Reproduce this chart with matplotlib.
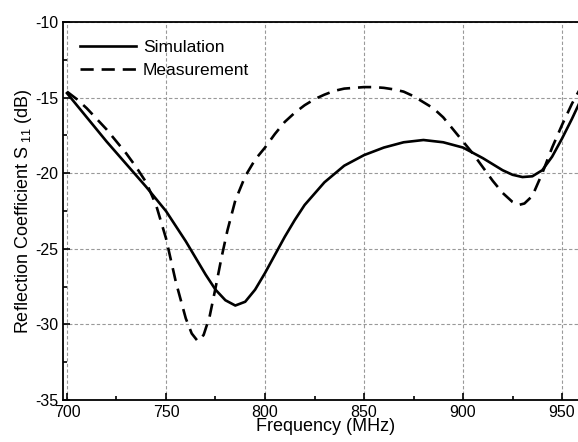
import matplotlib
matplotlib.use("Agg")
import matplotlib.pyplot as plt
from matplotlib.ticker import MultipleLocator

plt.rcParams['font.family'] = ['Liberation Sans', 'DejaVu Sans']
plt.rcParams['mathtext.fontset'] = 'custom'
plt.rcParams['mathtext.rm'] = 'Liberation Sans'
plt.rcParams['axes.unicode_minus'] = False

# Simulated S11
sim_f = [700, 710, 720, 730, 740, 745, 750, 755, 760, 765, 770, 775, 780, 785,
         790, 795, 800, 805, 810, 815, 820, 830, 840, 850, 860, 870, 880, 890,
         900, 910, 915, 920, 925, 930, 935, 940, 945, 950, 955, 960, 965]
sim_s11 = [-14.7, -16.3, -17.9, -19.4, -20.9, -21.7, -22.5, -23.5, -24.5, -25.6,
           -26.7, -27.7, -28.4, -28.75, -28.5, -27.7, -26.6, -25.4, -24.2, -23.1,
           -22.1, -20.6, -19.5, -18.8, -18.3, -17.95, -17.8, -17.95, -18.3, -19.0,
           -19.4, -19.8, -20.1, -20.25, -20.2, -19.8, -18.9, -17.7, -16.4, -15.0, -13.6]

meas_f = [700, 705, 710, 715, 720, 725, 730, 735, 740, 745, 750, 755, 760, 763,
          766, 769, 772, 775, 778, 781, 785, 790, 795, 800, 805, 810, 815, 820,
          825, 830, 835, 840, 845, 850, 855, 860, 865, 870, 875, 880, 885, 890,
          895, 900, 905, 910, 915, 920, 925, 928, 931, 935, 940, 945, 950, 955, 960, 965]
meas_s11 = [-14.6, -15.1, -15.7, -16.4, -17.1, -17.9, -18.7, -19.6, -20.6, -22.1,
            -24.3, -27.2, -29.6, -30.6, -31.1, -30.7, -29.5, -27.6, -25.6, -23.8,
            -21.8, -20.2, -19.1, -18.3, -17.4, -16.6, -16.0, -15.5, -15.1, -14.8,
            -14.55, -14.4, -14.35, -14.3, -14.3, -14.35, -14.45, -14.6, -14.9, -15.3,
            -15.7, -16.3, -17.1, -17.9, -18.7, -19.6, -20.5, -21.3, -21.9, -22.1,
            -22.0, -21.5, -20.0, -18.3, -16.8, -15.4, -14.2, -13.0]

fig = plt.figure(figsize=(5.78, 4.42), dpi=100)
ax = fig.add_axes([0.109, 0.095, 0.91, 0.855])

ax.plot(sim_f, sim_s11, color='black', lw=1.9, label='Simulation')
ax.plot(meas_f, meas_s11, color='black', lw=1.9, ls=(0, (5, 3)), label='Measurement')

ax.set_xlim(698, 963.6)
ax.set_ylim(-35, -10)
ax.xaxis.set_major_locator(MultipleLocator(50))
ax.xaxis.set_minor_locator(MultipleLocator(25))
ax.yaxis.set_major_locator(MultipleLocator(5))
ax.yaxis.set_minor_locator(MultipleLocator(2.5))
ax.tick_params(which='both', direction='in', labelsize=11.5, width=1.2)
ax.tick_params(which='major', length=5)
ax.tick_params(which='minor', length=3)
ax.grid(True, which='major', ls=(0, (3, 2)), color='#999999', lw=0.8)

for sp in ax.spines.values():
    sp.set_linewidth(1.3)

ax.set_xlabel('Frequency (MHz)', fontsize=13, labelpad=-1)
ax.set_ylabel('Reflection Coefficient S$_{\\ 11}$ (dB)', fontsize=13, labelpad=1)

ax.legend(loc='upper left', frameon=False, fontsize=12.5, handlelength=3.2,
          handletextpad=0.4, labelspacing=0.45, borderaxespad=0.6)

fig.savefig('out.png', dpi=100)
